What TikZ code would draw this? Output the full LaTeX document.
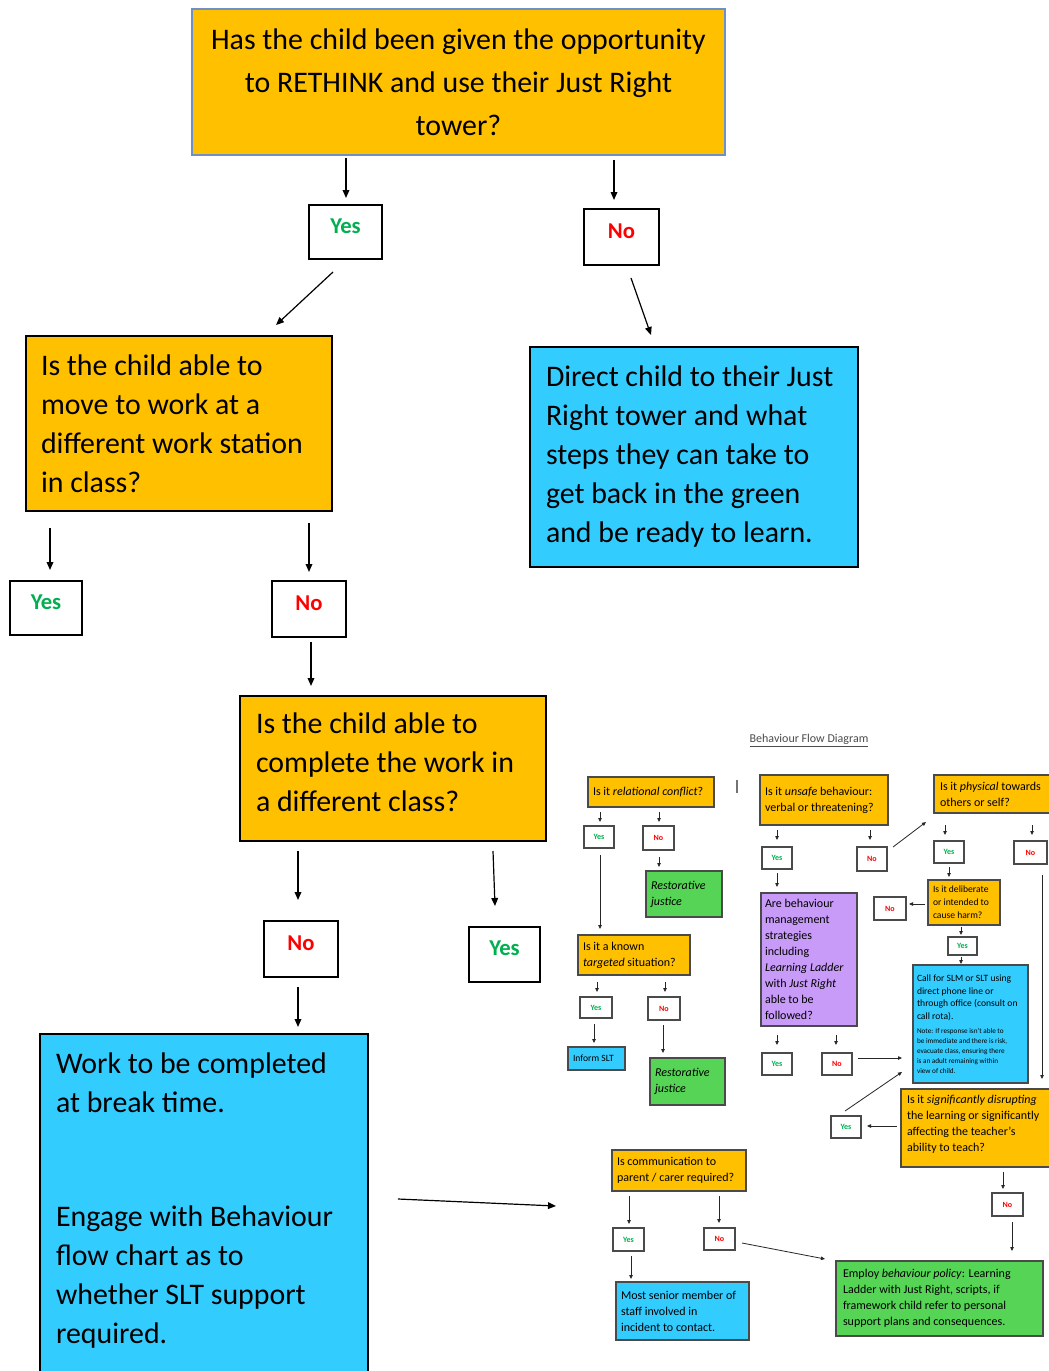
\documentclass[tikz,border=0pt]{standalone}
\usepackage{fontspec}
\setmainfont{Carlito}
\usetikzlibrary{arrows.meta}
\definecolor{qorange}{HTML}{FFC000}
\definecolor{qblue}{HTML}{33CCFF}
\definecolor{qgreen}{HTML}{55D455}
\definecolor{qpurple}{HTML}{C89BF8}
\definecolor{yesgreen}{HTML}{00B050}
\definecolor{nored}{HTML}{FF0000}
\definecolor{topedge}{HTML}{6F8FC7}
\definecolor{sedge}{HTML}{4A4A4A}
\newcommand\fntbig{\fontsize{22.4}{29.25}\selectfont}
\newcommand\fnttop{\fontsize{22.4}{32.25}\selectfont}
\newcommand\fntyn{\fontsize{17}{20}\selectfont\bfseries}
\newcommand\fnts{\fontsize{9}{12}\selectfont}
\newcommand\fntss{\fontsize{7.2}{9.4}\selectfont}
\newcommand\fntsn{\fontsize{5.4}{7.5}\selectfont}
\newcommand\fntsyn{\fontsize{6}{7}\selectfont\bfseries}
% #1 style, #2 name, #3 x1, #4 y1, #5 x2, #6 y2, #7 inset (px), #8 text
\newcommand\bx[8][]{%
 \pgfmathsetmacro\bxw{(#5-#3)*0.75}%
 \pgfmathsetmacro\bxh{(#6-#4)*0.75}%
 \pgfmathsetmacro\bxt{(#5-#3-2*#7)*0.75}%
 \pgfmathsetmacro\bxi{#7*0.75}%
 \pgfmathsetmacro\bxx{(#3+#5)/2}%
 \pgfmathsetmacro\bxy{(#4+#6)/2}%
 \node[#1, inner xsep=\bxi pt, inner ysep=0pt, text width=\bxt pt,
   minimum width=\bxw pt, minimum height=\bxh pt] (#2) at (\bxx,\bxy) {#8};}
\begin{document}
\begin{tikzpicture}[x=0.75pt,y=-0.75pt,
  topq/.style={draw=topedge, line width=1pt, fill=qorange, align=flush center, font=\fnttop},
  bq/.style={draw=black, line width=1.1pt, fill=qorange, align=flush left, font=\fntbig},
  bb/.style={draw=black, line width=1.1pt, fill=qblue, align=flush left, font=\fntbig},
  yn/.style={draw=black, line width=0.9pt, fill=white, align=flush center, font=\fntyn,
    text height=11pt, text depth=9pt},
  yes/.style={yn, text=yesgreen},
  no/.style={yn, text=nored},
  arr/.style={-{Triangle[length=6pt,width=5pt]}, line width=0.9pt},
  sb/.style={draw=sedge, line width=0.9pt, align=flush left, font=\fnts},
  so/.style={sb, fill=qorange},
  sg/.style={sb, fill=qgreen},
  sbl/.style={sb, fill=qblue},
  spu/.style={sb, fill=qpurple},
  syn/.style={draw=sedge, line width=0.9pt, fill=white, align=flush center, font=\fntsyn},
  syes/.style={syn, text=yesgreen},
  sno/.style={syn, text=nored},
  sarr/.style={-{Triangle[length=3pt,width=2.6pt]}, line width=0.6pt, draw=black!85}
]
\clip (0,0) rectangle (1049,1371);
\fill[white] (0,0) rectangle (1049,1371);

% ---------- main flow ----------
\bx[topq]{T}{192}{9}{725}{155}{8}{Has the child been given the opportunity\\to RETHINK and use their Just Right\\tower?}
\bx[yes]{Y1}{309}{205}{382}{259}{0}{Yes}
\bx[no]{N1}{584}{209}{659}{265}{0}{No}
\bx[bq]{Q2}{26}{336}{332}{511}{15}{Is the child able to\\move to work at a\\different work station\\in class?}
\bx[bb]{B1}{530}{347}{858}{567}{16}{Direct child to their Just\\Right tower and what\\steps they can take to\\get back in the green\\and be ready to learn.}
\bx[yes]{Y2}{10}{581}{82}{635}{0}{Yes}
\bx[no]{N2}{272}{581}{346}{637}{0}{No}
\bx[bq]{Q3}{240}{696}{546}{841}{16}{Is the child able to\\complete the work in\\a different class?\rule[-9pt]{0pt}{1pt}}
\bx[no]{N3}{264}{921}{338}{977}{0}{No}
\bx[yes]{Y3}{469}{927}{540}{982}{0}{Yes}
\bx[bb]{B2}{40}{1034}{368}{1378}{16}{Work to be completed\\at break time.\\[56pt]Engage with Behaviour\\flow chart as to\\whether SLT support\\required.\rule[-12pt]{0pt}{1pt}}

\coordinate (a1s) at (346,158);  \coordinate (a1e) at (346,198);
\coordinate (a2s) at (614,160);  \coordinate (a2e) at (614,200);
\coordinate (a3s) at (333,272);  \coordinate (a3e) at (276,325);
\coordinate (a4s) at (631,278);  \coordinate (a4e) at (651,335);
\coordinate (a5s) at (50,528);   \coordinate (a5e) at (50,570);
\coordinate (a6s) at (309,523);  \coordinate (a6e) at (309,572);
\coordinate (a7s) at (311,642);  \coordinate (a7e) at (311,686);
\coordinate (a8s) at (298,851);  \coordinate (a8e) at (298,900);
\coordinate (a9s) at (493,851);  \coordinate (a9e) at (495,906);
\coordinate (a10s) at (298,987); \coordinate (a10e) at (298,1027);
\coordinate (a11s) at (398,1199);\coordinate (a11e) at (556,1206);
\foreach \i in {1,...,11} {\draw[arr] (a\i s) -- (a\i e);}

% ---------- embedded small flow diagram ----------
\node[font=\fnts, text=black!70] (title) at (809,741) {\underline{Behaviour Flow Diagram}};
\draw[black!55, line width=1.2pt] (737,780) -- (737,793);

\bx[so]{s1}{588}{777}{714}{807}{5}{Is it \textit{relational conflict}?}
\bx[syes]{s1y}{584}{826}{614}{848}{0}{Yes}
\bx[sno]{s1n}{643}{826}{674}{850}{0}{No}
\bx[sg]{s1g}{646}{871}{722}{917}{5}{\textit{Restorative}\\\textit{justice}}
\bx[so]{s2}{578}{935}{690}{975}{5}{Is it a known\\\textit{targeted} situation?}
\bx[syes]{s2y}{580}{997}{612}{1018}{0}{Yes}
\bx[sno]{s2n}{648}{997}{680}{1020}{0}{No}
\bx[sbl, font=\fntss]{s2b}{568}{1047}{625}{1070}{5}{Inform SLT}
\bx[sg]{s2g}{650}{1058}{725}{1105}{5}{\textit{Restorative}\\\textit{justice}}

\bx[so]{s3}{760}{775}{888}{825}{5}{Is it \textit{unsafe} behaviour:\\verbal or threatening?}
\bx[syes]{s3y}{762}{847}{792}{869}{0}{Yes}
\bx[sno]{s3n}{857}{847}{887}{871}{0}{No}
\bx[spu]{s3p}{761}{893}{857}{1026}{4}{Are behaviour\\management\\strategies\\including\\\textit{Learning~Ladder}\\with \textit{Just~Right}\\able to be\\followed?}
\bx[syes]{s3py}{762}{1053}{792}{1075}{0}{Yes}
\bx[sno]{s3pn}{822}{1053}{852}{1075}{0}{No}

\bx[so]{s4}{934}{775}{1062}{813}{6}{Is it \textit{physical} towards\\others or self?}
\bx[syes]{s4y}{934}{841}{964}{863}{0}{Yes}
\bx[sno]{s4n}{1014}{841}{1047}{864}{0}{No}
\bx[so, font=\fontsize{7.2}{9.75}\selectfont]{s5}{928}{880}{1000}{925}{5}{Is it deliberate\\or intended to\\cause harm?}
\bx[sno]{s5n}{874}{897}{906}{920}{0}{No}
\bx[syes]{s5y}{948}{937}{977}{955}{0}{Yes}
\bx[sbl]{s6}{913}{965}{1028}{1083}{4}{{\fntss Call for SLM or SLT using\\direct phone line or\\through office (consult on\\call rota).\par}\vspace{3pt}{\fntsn Note: If response isn't able to\\be immediate and there is risk,\\evacuate class, ensuring there\\is an adult remaining within\\view of child.\par}}
\bx[so]{s7}{901}{1089}{1062}{1167}{6}{Is it \textit{significantly disrupting}\\the learning or significantly\\affecting the teacher's\\ability to teach?\rule[-7pt]{0pt}{1pt}}
\bx[syes]{s7y}{831}{1116}{861}{1138}{0}{Yes}
\bx[sno]{s7n}{992}{1193}{1023}{1216}{0}{No}
\bx[sg]{s8}{836}{1261}{1043}{1336}{7}{Employ \textit{behaviour policy}: Learning\\Ladder with Just Right, scripts, if\\framework child refer to personal\\support plans and consequences.}

\bx[so]{s9}{612}{1150}{746}{1191}{5}{Is communication to\\\mbox{parent / carer required?}}
\bx[syes]{s9y}{613}{1228}{644}{1251}{0}{Yes}
\bx[sno]{s9n}{704}{1228}{735}{1250}{0}{No}
\bx[sbl]{s9b}{616}{1282}{749}{1340}{5}{\mbox{Most senior member of}\\staff involved in\\incident to contact.}

\coordinate (b1s) at (600,812);  \coordinate (b1e) at (600,822);
\coordinate (b2s) at (659,812);  \coordinate (b2e) at (659,822);
\coordinate (b3s) at (600,855);  \coordinate (b3e) at (600,929);
\coordinate (b4s) at (659,857);  \coordinate (b4e) at (659,867);
\coordinate (b5s) at (597,982);  \coordinate (b5e) at (597,992);
\coordinate (b6s) at (665,982);  \coordinate (b6e) at (665,992);
\coordinate (b7s) at (594,1024); \coordinate (b7e) at (594,1043);
\coordinate (b8s) at (663,1025); \coordinate (b8e) at (663,1053);
\coordinate (b9s) at (777,830);  \coordinate (b9e) at (777,840);
\coordinate (b10s) at (870,830); \coordinate (b10e) at (870,840);
\coordinate (b11s) at (893,847); \coordinate (b11e) at (926,822);
\coordinate (b12s) at (777,873); \coordinate (b12e) at (777,887);
\coordinate (b13s) at (777,1035);\coordinate (b13e) at (777,1045);
\coordinate (b14s) at (836,1035);\coordinate (b14e) at (836,1045);
\coordinate (b15s) at (858,1058);\coordinate (b15e) at (902,1058);
\coordinate (b16s) at (945,825); \coordinate (b16e) at (945,835);
\coordinate (b17s) at (1032,825);\coordinate (b17e) at (1032,835);
\coordinate (b18s) at (949,867); \coordinate (b18e) at (949,877);
\coordinate (b19s) at (925,904); \coordinate (b19e) at (909,904);
\coordinate (b20s) at (961,927); \coordinate (b20e) at (961,935);
\coordinate (b21s) at (961,957); \coordinate (b21e) at (961,964);
\coordinate (b22s) at (1042,875);\coordinate (b22e) at (1042,1079);
\coordinate (b23s) at (897,1126);\coordinate (b23e) at (867,1126);
\coordinate (b24s) at (845,1111);\coordinate (b24e) at (902,1072);
\coordinate (b25s) at (1003,1172);\coordinate (b25e) at (1003,1189);
\coordinate (b26s) at (1012,1222);\coordinate (b26e) at (1012,1251);
\coordinate (b27s) at (629,1196);\coordinate (b27e) at (629,1224);
\coordinate (b28s) at (719,1196);\coordinate (b28e) at (719,1223);
\coordinate (b29s) at (631,1256);\coordinate (b29e) at (631,1279);
\coordinate (b30s) at (742,1243);\coordinate (b30e) at (825,1259);
\foreach \i in {1,...,30} {\draw[sarr] (b\i s) -- (b\i e);}
\end{tikzpicture}
\end{document}
